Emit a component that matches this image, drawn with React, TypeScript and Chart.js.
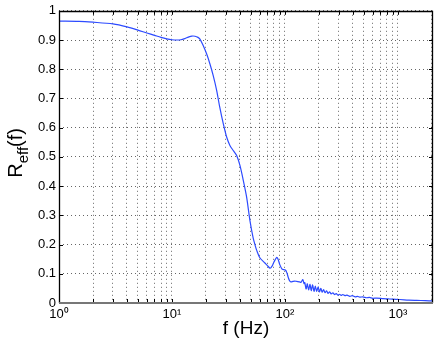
import React, { useEffect, useRef } from "react";
import { Chart, registerables } from "chart.js";

Chart.register(...registerables);

// Frequency (Hz) and effective reflectivity R_eff(f)
const freqHz: number[] = [
  1, 1.5, 2, 3, 4, 5, 6, 7, 8, 9, 10, 11, 12, 13, 14, 15, 16, 17, 17.7, 18.9,
  20.3, 21.7, 23.2, 24.9, 26.5, 28.5, 30.5, 32.6, 34.9, 37.4, 40, 42.8, 45.8,
  49, 52.4, 54.3, 56.2, 60, 66.5, 70, 74, 77, 80, 84.5, 87, 90, 94, 98, 101,
  104, 107, 110, 113, 118, 122, 127, 131, 135, 139, 144, 148, 150, 154, 158,
  162, 167, 171, 176, 181, 186, 191, 197, 202, 208, 214, 220, 227, 234, 241,
  249, 257, 266, 275, 285, 295, 305, 315, 325, 340, 355, 376, 395, 420, 440,
  460, 490, 528, 560, 600, 650, 741, 820, 900, 1041, 1250, 1463, 1750, 2048,
];
const reff: number[] = [
  0.965, 0.964, 0.961, 0.955, 0.945, 0.934, 0.924, 0.916, 0.909, 0.904,
  0.901, 0.9, 0.901, 0.905, 0.91, 0.9135, 0.913, 0.909, 0.903, 0.881, 0.852,
  0.818, 0.778, 0.727, 0.67, 0.613, 0.568, 0.539, 0.522, 0.505, 0.471, 0.42,
  0.363, 0.283, 0.222, 0.2, 0.181, 0.155, 0.137, 0.128, 0.119, 0.126, 0.14,
  0.156, 0.15, 0.132, 0.117, 0.114, 0.113, 0.104, 0.088, 0.076, 0.072, 0.074,
  0.075, 0.074, 0.073, 0.072, 0.071, 0.08, 0.066, 0.07, 0.048, 0.066, 0.045,
  0.064, 0.042, 0.062, 0.04, 0.058, 0.04, 0.055, 0.038, 0.05, 0.037, 0.046,
  0.035, 0.042, 0.033, 0.038, 0.031, 0.035, 0.029, 0.032, 0.027, 0.03, 0.026,
  0.029, 0.025, 0.027, 0.023, 0.025, 0.021, 0.023, 0.02, 0.021, 0.018, 0.019,
  0.016, 0.017, 0.015, 0.014, 0.013, 0.012, 0.01, 0.009, 0.008, 0.007,
];

const xTickValues: number[] = [
  1, 2, 3, 4, 5, 6, 7, 8, 9, 10, 20, 30, 40, 50, 60, 70, 80, 90, 100, 200,
  300, 400, 500, 600, 700, 800, 900, 1000, 2000,
];
const xTickLabels: Record<number, string> = {
  1: "10\u2070",
  10: "10\u00B9",
  100: "10\u00B2",
  1000: "10\u00B3",
};
const xMin = 1;
const xMax = 2048;
const yMin = 0;
const yMax = 1;
const yStep = 0.1;
const xTitle = "f (Hz)";
const yTitleMain = "R";
const yTitleSub = "eff";
const yTitleTail = "(f)";

const FONT = "'Liberation Sans', Arial, Helvetica, sans-serif";

const framePlugin = {
  id: "frame",
  afterDraw(chart: any) {
    const { ctx, chartArea } = chart;
    const { left, right, top, bottom } = chartArea;
    const xs = chart.scales.x;
    const ys = chart.scales.y;
    ctx.save();
    // ticks (inward)
    ctx.strokeStyle = "#000";
    ctx.lineWidth = 1;
    ctx.beginPath();
    xTickValues.forEach((v) => {
      if (v > xMax) return;
      const px = Math.round(xs.getPixelForValue(v)) + 0.5;
      ctx.moveTo(px, bottom);
      ctx.lineTo(px, bottom - 4);
      ctx.moveTo(px, top);
      ctx.lineTo(px, top + 4);
    });
    for (let v = yMin; v <= yMax + 1e-9; v += yStep) {
      const py = Math.round(ys.getPixelForValue(v)) + 0.5;
      ctx.moveTo(left, py);
      ctx.lineTo(left + 4, py);
      ctx.moveTo(right, py);
      ctx.lineTo(right - 4, py);
    }
    ctx.stroke();
    // box
    ctx.beginPath();
    ctx.lineWidth = 1.3;
    ctx.moveTo(Math.round(left) + 0.5, Math.round(bottom));
    ctx.lineTo(Math.round(left) + 0.5, Math.round(top) + 0.5);
    ctx.lineTo(Math.round(right) - 0.5, Math.round(top) + 0.5);
    ctx.lineTo(Math.round(right) - 0.5, Math.round(bottom));
    ctx.stroke();
    ctx.beginPath();
    ctx.strokeStyle = "#777";
    ctx.lineWidth = 2;
    ctx.moveTo(left, Math.round(bottom));
    ctx.lineTo(right, Math.round(bottom));
    ctx.stroke();

    // y-axis title with subscript
    const cy = (top + bottom) / 2 - 4;
    const baseX = 22;
    ctx.fillStyle = "#000";
    ctx.textBaseline = "alphabetic";
    ctx.textAlign = "left";
    ctx.font = `20px ${FONT}`;
    const wR = ctx.measureText(yTitleMain).width;
    const wTail = ctx.measureText(yTitleTail).width;
    ctx.font = `15px ${FONT}`;
    const wSub = ctx.measureText(yTitleSub).width;
    const total = wR + wSub + wTail;
    ctx.translate(baseX, cy);
    ctx.rotate(-Math.PI / 2);
    let x0 = -total / 2;
    ctx.font = `20px ${FONT}`;
    ctx.fillText(yTitleMain, x0, 0);
    x0 += wR;
    ctx.font = `15px ${FONT}`;
    ctx.fillText(yTitleSub, x0, 6);
    x0 += wSub;
    ctx.font = `20px ${FONT}`;
    ctx.fillText(yTitleTail, x0, 0);
    ctx.restore();
  },
};

export default function App() {
  const ref = useRef<HTMLCanvasElement | null>(null);
  useEffect(() => {
    if (!ref.current) return;
    const chart = new Chart(ref.current, {
      type: "line",
      data: {
        datasets: [
          {
            data: freqHz.map((f, i) => ({ x: f, y: reff[i] })),
            borderColor: "rgb(45, 75, 255)",
            borderWidth: 1.2,
            pointRadius: 0,
            tension: 0.3,
            fill: false,
          },
        ],
      },
      options: {
        animation: false,
        responsive: false,
        devicePixelRatio: 1,
        layout: { padding: { top: 10, right: 4, left: 0, bottom: 0 } },
        plugins: { legend: { display: false }, tooltip: { enabled: false } },
        scales: {
          x: {
            type: "logarithmic",
            min: xMin,
            max: xMax,
            afterBuildTicks: (scale: any) => {
              scale.ticks = xTickValues
                .filter((v) => v <= xMax)
                .map((v) => ({ value: v, major: !!xTickLabels[v] }));
            },
            afterFit: (scale: any) => {
              scale.height = 43;
            },
            ticks: {
              autoSkip: false,
              maxRotation: 0,
              minRotation: 0,
              padding: 4,
              color: "#000",
              font: { size: 13, family: FONT },
              callback: (value: any) => xTickLabels[Number(value)] ?? "",
            },
            grid: {
              color: "rgba(0,0,0,0.6)",
              lineWidth: 1,
              drawTicks: false,
            },
            border: { display: false, dash: [1, 3] },
            title: {
              display: true,
              text: xTitle,
              color: "#000",
              font: { size: 19, family: FONT },
              padding: { top: 0, bottom: 6 },
            },
          },
          y: {
            type: "linear",
            min: yMin,
            max: yMax,
            afterFit: (scale: any) => {
              scale.width = 59;
            },
            ticks: {
              stepSize: yStep,
              padding: 3,
              color: "#000",
              font: { size: 13, family: FONT },
              callback: (value: any) => String(Number(Number(value).toFixed(1))),
            },
            grid: {
              color: "rgba(0,0,0,0.6)",
              lineWidth: 1,
              drawTicks: false,
            },
            border: { display: false, dash: [1, 3] },
          },
        },
      },
      plugins: [framePlugin],
    });
    return () => chart.destroy();
  }, []);
  return (
    <div style={{ position: "fixed", left: 0, top: 0, width: 437, height: 346, background: "#fff" }}>
      <canvas ref={ref} width={437} height={346} style={{ display: "block" }} />
    </div>
  );
}
